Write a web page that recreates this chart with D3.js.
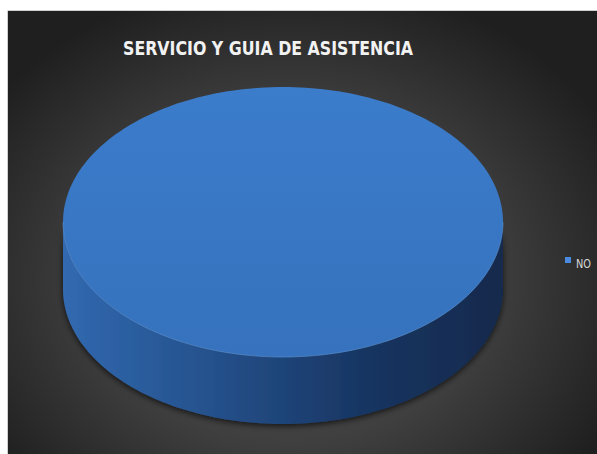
<!DOCTYPE html>
<html><head><meta charset="utf-8">
<script src="https://cdn.jsdelivr.net/npm/d3@7"></script>
<style>html,body{margin:0;padding:0;background:#fff;}svg{display:block;}</style>
</head><body>
<svg id="chart" width="597" height="454"></svg>
<script>
const title = "SERVICIO Y GUIA DE ASISTENCIA";
const categories = ["NO"];
const values = [100];
const colors = ["#3a77c3"];

const svg = d3.select("#chart");
const W = 597, H = 454;
const defs = svg.append("defs");

const bg = defs.append("radialGradient").attr("id","bg")
  .attr("cx","48%").attr("cy","60%").attr("r","62%")
  .attr("gradientTransform","translate(0.48,0.6) scale(1,1.1) translate(-0.48,-0.6)");
bg.append("stop").attr("offset","0%").attr("stop-color","#575757");
bg.append("stop").attr("offset","55%").attr("stop-color","#3f3f3f");
bg.append("stop").attr("offset","100%").attr("stop-color","#1f1f1f");

const sideG = defs.append("linearGradient").attr("id","side").attr("x1","0").attr("x2","1").attr("y1","0").attr("y2","0");
sideG.append("stop").attr("offset","0%").attr("stop-color","#3169b0");
sideG.append("stop").attr("offset","35%").attr("stop-color","#24508a");
sideG.append("stop").attr("offset","70%").attr("stop-color","#173460");
sideG.append("stop").attr("offset","100%").attr("stop-color","#122a4c");

const topG = defs.append("linearGradient").attr("id","topg").attr("x1","0").attr("x2","0").attr("y1","0").attr("y2","1");
topG.append("stop").attr("offset","0%").attr("stop-color","#3b7ccb");
topG.append("stop").attr("offset","100%").attr("stop-color","#3672bd");

const sh = defs.append("filter").attr("id","shadow").attr("x","-20%").attr("y","-20%").attr("width","140%").attr("height","150%");
sh.append("feGaussianBlur").attr("in","SourceAlpha").attr("stdDeviation","3").attr("result","b");
sh.append("feOffset").attr("in","b").attr("dx","0").attr("dy","2").attr("result","o");
sh.append("feFlood").attr("flood-color","#000").attr("flood-opacity","0.7");
sh.append("feComposite").attr("in2","o").attr("operator","in").attr("result","s");
const m = sh.append("feMerge");
m.append("feMergeNode").attr("in","s");
m.append("feMergeNode").attr("in","SourceGraphic");

svg.append("rect").attr("x",8).attr("y",11).attr("width",W-8).attr("height",H-11).attr("fill","url(#bg)");
svg.append("line").attr("x1",7.5).attr("x2",7.5).attr("y1",11).attr("y2",H).attr("stroke","#d0d0d0").attr("stroke-width",1);
svg.append("line").attr("x1",7.5).attr("x2",W).attr("y1",10.5).attr("y2",10.5).attr("stroke","#d0d0d0").attr("stroke-width",1);

svg.append("text").attr("x",268).attr("y",55).attr("text-anchor","middle")
  .attr("font-family","'DejaVu Sans Condensed','Liberation Sans Narrow',Arial,sans-serif")
  .attr("font-weight","bold").attr("font-size",19.5).attr("fill","#f2f2f2")
  .attr("textLength",290).attr("lengthAdjust","spacingAndGlyphs")
  .text(title);

const cx = 283, cy = 222, rx = 220, ry = 135, depth = 67;
const pie = d3.pie().sort(null).value(d=>d)(values);
const sx = d3.scaleLinear().domain([-1,1]).range([cx-rx, cx+rx]);
const sy = d3.scaleLinear().domain([-1,1]).range([cy-ry, cy+ry]);

function pt(a, dy){ return [sx(Math.sin(a)), sy(-Math.cos(a)) + dy]; }
const g = svg.append("g");

pie.forEach((p,i)=>{
  const a0 = Math.max(p.startAngle, Math.PI/2), a1 = Math.min(p.endAngle, 3*Math.PI/2);
  if (a1 > a0) {
    const n = 120, ptsTop = [], ptsBot = [];
    for (let k=0;k<=n;k++){ const a = a0 + (a1-a0)*k/n; ptsTop.push(pt(a,0)); ptsBot.push(pt(a,depth)); }
    const path = d3.path();
    path.moveTo(...ptsTop[0]);
    ptsTop.forEach(q=>path.lineTo(...q));
    ptsBot.slice().reverse().forEach(q=>path.lineTo(...q));
    path.closePath();
    g.append("path").attr("d",path.toString()).attr("fill","url(#side)").attr("filter","url(#shadow)");
  }
  const n = 240, path = d3.path();
  for (let k=0;k<=n;k++){ const a = p.startAngle + (p.endAngle-p.startAngle)*k/n; const q = pt(a,0); k?path.lineTo(...q):path.moveTo(...q); }
  if (p.endAngle - p.startAngle < 2*Math.PI - 1e-6) path.lineTo(cx,cy);
  path.closePath();
  g.append("path").attr("d",path.toString()).attr("fill","url(#topg)");
  const h = d3.path();
  for (let k=0;k<=n/2;k++){ const a = Math.PI/2 + Math.PI*k/(n/2); const q = pt(a,0); k?h.lineTo(...q):h.moveTo(...q); }
  g.append("path").attr("d",h.toString()).attr("fill","none").attr("stroke","#5a93d6").attr("stroke-opacity",0.6).attr("stroke-width",1);
});

const lg = svg.append("g").attr("transform","translate(565,257)");
categories.forEach((c,i)=>{
  lg.append("rect").attr("x",0).attr("y",i*18).attr("width",6).attr("height",6).attr("fill","#4a8ae0");
  lg.append("text").attr("x",11).attr("y",i*18+11).attr("font-family","'DejaVu Sans Condensed','Liberation Sans Narrow',Arial,sans-serif")
    .attr("font-size",13).attr("fill","#d9d9d9")
    .attr("textLength",15).attr("lengthAdjust","spacingAndGlyphs").text(c);
});
</script>
</body></html>
